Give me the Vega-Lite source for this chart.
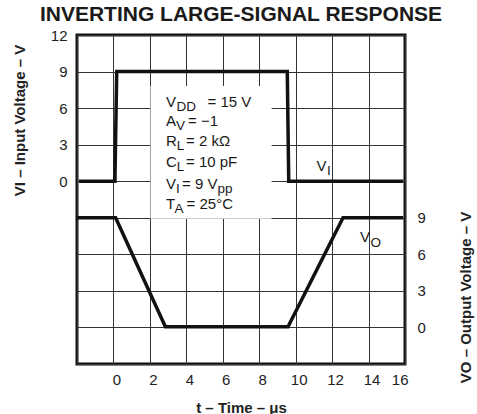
{
  "$schema": "https://vega.github.io/schema/vega-lite/v6.json",
  "width": 328,
  "height": 329,
  "autosize": "none",
  "padding": {"left": 77, "top": 35, "right": 72, "bottom": 50},
  "title": {"text": "INVERTING LARGE-SIGNAL RESPONSE", "fontSize": 21, "fontWeight": "bold", "font": "Liberation Sans", "color": "#1a1a1a", "anchor": "middle", "offset": 3},
  "encoding": {
    "x": {
      "field": "t", "type": "quantitative",
      "scale": {"domain": [-2, 16], "nice": false, "zero": false},
      "axis": {
        "values": [-2, 0, 2, 4, 6, 8, 10, 12, 14, 16],
        "labelExpr": "datum.value >= 0 ? datum.label : ''",
        "grid": true, "ticks": false, "domain": false,
        "labelPadding": 8, "labelOffset": 3,
        "title": "t – Time – μs", "titleY": 43, "titleBaseline": "middle"
      }
    }
  },
  "layer": [
    {
      "encoding": {
        "y": {
          "field": "v", "type": "quantitative",
          "scale": {"domain": [-15, 12], "nice": false, "zero": false},
          "axis": {
            "values": [-15, -12, -9, -6, -3, 0, 3, 6, 9, 12],
            "labelExpr": "datum.value >= 0 ? datum.label : ''",
            "grid": true, "ticks": false, "domain": false,
            "labelPadding": 10,
            "title": "VI – Input Voltage – V",
            "titleX": -58, "titleY": 85, "titleAngle": -90,
            "titleAlign": "center", "titleBaseline": "middle"
          }
        }
      },
      "layer": [
        {
          "data": {"values": [{"t": 2.03, "t2": 8.68, "v": 7.82, "v2": -3.08}]},
          "mark": {"type": "rect", "fill": "white", "stroke": null},
          "encoding": {"x2": {"field": "t2"}, "y2": {"field": "v2"}}
        },
        {
          "data": {"values": [
            {"t": -1.9, "v": 0}, {"t": 0.08, "v": 0}, {"t": 0.18, "v": 9},
            {"t": 9.54, "v": 9}, {"t": 9.62, "v": 0}, {"t": 15.9, "v": 0}
          ]},
          "mark": {"type": "line", "color": "#111", "strokeWidth": 3.5, "strokeJoin": "miter"}
        },
        {
          "data": {"values": [
            {"t": 2.884, "v": 6.13, "s": "V"},
            {"t": 5.16, "v": 6.13, "s": "= 15 V"},
            {"t": 2.884, "v": 4.53, "s": "A"},
            {"t": 4.09, "v": 4.53, "s": "= −1"},
            {"t": 2.884, "v": 2.85, "s": "R"},
            {"t": 3.98, "v": 2.85, "s": "= 2 kΩ"},
            {"t": 2.884, "v": 1.13, "s": "C"},
            {"t": 3.98, "v": 1.13, "s": "= 10 pF"},
            {"t": 2.884, "v": -0.6, "s": "V"},
            {"t": 3.76, "v": -0.6, "s": "= 9 V"},
            {"t": 2.884, "v": -2.28, "s": "T"},
            {"t": 4.01, "v": -2.28, "s": "= 25°C"},
            {"t": 11.15, "v": 0.86, "s": "V"}
          ]},
          "mark": {"type": "text", "align": "left", "baseline": "alphabetic", "fontSize": 15, "font": "Liberation Sans", "color": "#1a1a1a"},
          "encoding": {"text": {"field": "s"}}
        },
        {
          "data": {"values": [
            {"t": 3.46, "v": 6.13, "s": "DD"},
            {"t": 3.433, "v": 4.53, "s": "V"},
            {"t": 3.477, "v": 2.85, "s": "L"},
            {"t": 3.477, "v": 1.13, "s": "L"},
            {"t": 3.433, "v": -0.6, "s": "I"},
            {"t": 5.71, "v": -0.6, "s": "pp"},
            {"t": 3.35, "v": -2.28, "s": "A"},
            {"t": 11.72, "v": 0.86, "s": "I"}
          ]},
          "mark": {"type": "text", "align": "left", "baseline": "alphabetic", "fontSize": 13.5, "dy": 4, "font": "Liberation Sans", "color": "#1a1a1a"},
          "encoding": {"text": {"field": "s"}}
        }
      ]
    },
    {
      "encoding": {
        "y": {
          "field": "v", "type": "quantitative",
          "scale": {"domain": [-3, 24], "nice": false, "zero": false},
          "axis": {
            "orient": "right",
            "values": [0, 3, 6, 9],
            "grid": false, "ticks": false, "domain": false,
            "labelPadding": 12,
            "title": "VO – Output Voltage – V",
            "titleX": 60, "titleY": 262, "titleAngle": -90,
            "titleAlign": "center", "titleBaseline": "middle"
          }
        }
      },
      "layer": [
        {
          "data": {"values": [
            {"t": -2, "v": 9}, {"t": 0.12, "v": 9}, {"t": 2.85, "v": 0.05},
            {"t": 9.58, "v": 0.05}, {"t": 12.6, "v": 9}, {"t": 15.9, "v": 9}
          ]},
          "mark": {"type": "line", "color": "#111", "strokeWidth": 3.5, "strokeJoin": "miter"}
        },
        {
          "data": {"values": [{"t": 13.53, "v": 7.04, "s": "V"}]},
          "mark": {"type": "text", "align": "left", "baseline": "alphabetic", "fontSize": 15, "font": "Liberation Sans", "color": "#1a1a1a"},
          "encoding": {"text": {"field": "s"}}
        },
        {
          "data": {"values": [{"t": 14.1, "v": 7.04, "s": "O"}]},
          "mark": {"type": "text", "align": "left", "baseline": "alphabetic", "fontSize": 13.5, "dy": 5, "font": "Liberation Sans", "color": "#1a1a1a"},
          "encoding": {"text": {"field": "s"}}
        }
      ]
    }
  ],
  "resolve": {"scale": {"y": "independent"}},
  "config": {
    "view": {"stroke": "#111", "strokeWidth": 3},
    "font": "Liberation Sans",
    "axis": {
      "labelFont": "Liberation Sans", "labelFontSize": 15, "labelColor": "#222",
      "titleFont": "Liberation Sans", "titleFontSize": 15, "titleFontWeight": "bold", "titleColor": "#222",
      "gridColor": "#333", "gridWidth": 1, "gridOpacity": 1
    }
  }
}
